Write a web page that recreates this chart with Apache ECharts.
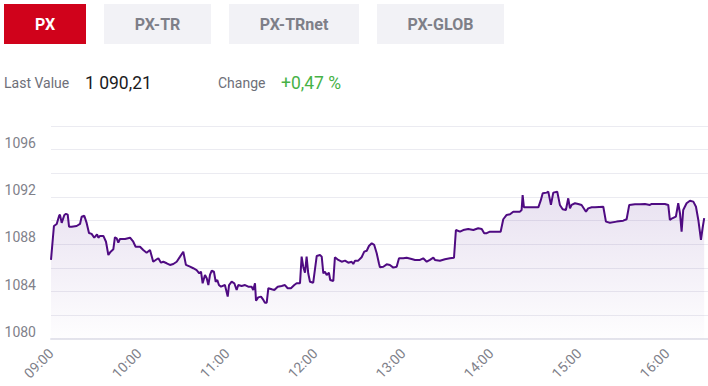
<!DOCTYPE html>
<html><head><meta charset="utf-8">
<script src="https://cdn.jsdelivr.net/npm/echarts@6/dist/echarts.min.js"></script>
<style>html,body{margin:0;padding:0;background:#fff}#c{width:708px;height:386px}</style>
</head><body><div id="c"></div>
<script>
const tabs = ['PX', 'PX-TR', 'PX-TRnet', 'PX-GLOB'];
const lastValueLabel = 'Last Value';
const lastValueText = '1 090,21';
const changeLabel = 'Change';
const changeText = '+0,47 %';
const hourLabels = ['09:00','10:00','11:00','12:00','13:00','14:00','15:00','16:00'];
const yTickLabels = [1080, 1084, 1088, 1092, 1096];
// minutes since 09:00
const times = [0,2,3.9,5.5,6.1,7.3,9.1,10.2,11.4,12.3,
14.1,17.5,19.8,20.9,22.7,24.3,25.9,27.7,29.5,30.5,
31.4,32.3,33.4,35.7,37.5,39.1,40.7,42.5,43.6,44.8,
45.9,47,50.5,53.9,56.1,57.7,60.7,62.9,65.2,67.5,
69.7,72.1,73.2,75,76.6,78.9,81.1,83.4,85.7,88,
90.2,92,94.8,97,99.3,101.1,102.3,103.4,105,106.2,
107.3,108.4,109.6,111.1,112.3,113.4,114.5,115.9,118.6,120.5,
121.4,123.2,125,126.6,127.7,130,132.3,134.5,136.8,137.9,
139.1,139.8,141.3,143.2,144.8,145.9,147.1,148.2,150.5,152.3,
154.6,157.3,159.5,161.4,163.6,165.9,167.5,169.8,170.9,172,
173.2,174.3,175.4,176.6,178.8,181.2,183.4,184.6,185.7,186.8,
188,189.5,190.4,192.5,193.6,195.9,198.2,200.5,202.7,205,
206.1,207.3,209.5,211.8,213.6,215.3,216.8,218.7,220.4,222.1,
223.6,224.3,226.6,228.9,231.1,233.4,235.7,237.3,240.2,242.5,
245.9,248.2,251.6,253.8,256.2,258.4,260.7,261.8,265.2,268.6,
272,274.8,276.1,278.9,281.1,284.5,288,291.3,293.7,295.4,
297.1,299.3,303.9,306.6,308.4,310.7,313,315.2,319.8,320.9,
321.6,322.5,328.9,332.3,333.9,335.3,338,339.1,340.9,342.5,
345.2,347,348.9,351.1,352.7,353.9,355,357.3,359.5,361.8,
364.8,366.3,368.7,370.9,376.6,378.4,381.1,385.7,390.2,392.5,
394.3,398.2,401.6,405,408.4,409.6,413,418.6,420.9,422,
423.6,426.1,427.7,428.9,430,431.1,433.4,435.7,438,439.8,
441.4,443.2,444.3,445.4];
const values = [1086.68,1089.55,1089.72,1090.40,1090.51,1089.81,1090.48,1090.57,1090.51,1089.49,
1089.49,1089.55,1089.72,1090.34,1090.42,1089.81,1088.96,1088.88,1088.56,1088.71,
1088.85,1088.56,1088.71,1088.71,1088.22,1087.10,1087.38,1087.58,1088.60,1088.51,
1088.14,1088.45,1088.45,1088.56,1088.22,1087.80,1087.80,1087.52,1087.29,1087.52,
1086.53,1086.74,1086.82,1086.45,1086.53,1086.40,1086.26,1086.34,1086.53,1086.96,
1087.38,1086.26,1086.11,1085.98,1085.83,1085.55,1085.69,1084.71,1085.41,1085.13,
1084.56,1085.41,1085.77,1085.69,1084.84,1084.99,1084.56,1084.42,1084.56,1083.58,
1084.56,1084.84,1084.71,1084.14,1084.56,1084.48,1084.56,1084.42,1084.42,1084.14,
1084.71,1083.24,1083.52,1083.58,1083.30,1083.07,1083.07,1084.29,1084.20,1084.14,
1084.42,1084.48,1084.56,1084.29,1084.29,1084.56,1084.71,1084.71,1086.96,1086.11,
1085.60,1086.96,1085.55,1084.84,1084.76,1087.02,1087.10,1086.96,1085.55,1085.69,
1085.41,1085.60,1084.99,1084.90,1086.91,1086.68,1086.53,1086.62,1086.45,1086.53,
1086.34,1086.62,1086.62,1086.91,1087.38,1087.46,1087.86,1088.09,1087.95,1087.24,
1086.40,1086.06,1086.11,1086.31,1086.26,1086.03,1086.11,1086.82,1086.82,1086.87,
1086.76,1086.68,1086.68,1086.82,1086.53,1086.68,1086.87,1086.68,1086.62,1086.74,
1086.82,1086.87,1089.21,1089.07,1089.21,1089.30,1089.21,1089.36,1089.30,1088.94,
1088.94,1089.07,1089.07,1089.07,1090.12,1090.48,1090.54,1090.76,1090.76,1090.90,
1092.17,1091.13,1091.13,1091.13,1091.69,1092.32,1092.37,1092.45,1091.33,1092.37,
1092.45,1091.33,1090.96,1090.90,1091.89,1091.04,1091.33,1091.47,1091.41,1091.33,
1090.76,1091.04,1091.13,1091.13,1091.18,1089.92,1089.83,1089.92,1090.00,1090.12,
1091.33,1091.39,1091.39,1091.41,1091.33,1091.41,1091.41,1091.41,1091.33,1090.06,
1090.20,1090.34,1091.47,1090.63,1089.07,1090.90,1091.47,1091.69,1091.61,1091.18,
1090.06,1088.37,1089.36,1090.21];

const FONT = 'Roboto, "Noto Sans", sans-serif';
const tabBoxes = [[4, 82], [104, 107], [229, 130], [377, 127]];
const graphics = [];
tabs.forEach((t, i) => {
  const [x, w] = tabBoxes[i];
  const active = i === 0;
  graphics.push({ type: 'rect', left: x, top: 4, shape: { width: w, height: 40 },
    style: { fill: active ? '#d0021b' : '#f2f2f6' } });
  graphics.push({ type: 'text', x: x + w / 2, y: 24,
    style: { text: t, fill: active ? '#ffffff' : '#7e7f88', fontFamily: FONT, fontWeight: 'bold',
      fontSize: 16, align: 'center', verticalAlign: 'middle' } });
});
graphics.push({ type: 'text', x: 4, y: 83, style: { text: lastValueLabel, fill: '#6e6f78', fontFamily: FONT, fontSize: 14, align: 'left', verticalAlign: 'middle' } });
graphics.push({ type: 'text', x: 85, y: 83, style: { text: lastValueText, fill: '#1b1b22', fontFamily: FONT, fontSize: 17.5, align: 'left', verticalAlign: 'middle' } });
graphics.push({ type: 'text', x: 218, y: 83, style: { text: changeLabel, fill: '#6e6f78', fontFamily: FONT, fontSize: 14, align: 'left', verticalAlign: 'middle' } });
graphics.push({ type: 'text', x: 281, y: 83, style: { text: changeText, fill: '#46b246', fontFamily: FONT, fontSize: 17.5, align: 'left', verticalAlign: 'middle' } });

const chart = echarts.init(document.getElementById('c'), null, { renderer: 'svg' });
chart.setOption({
  animation: false,
  backgroundColor: '#ffffff',
  graphic: graphics,
  grid: { left: 51, right: 0, top: 126, bottom: 47, containLabel: false },
  xAxis: {
    type: 'value', min: 0, max: 448, interval: 60,
    axisLine: { show: true, lineStyle: { color: '#e4e4ec', width: 2 } },
    axisTick: { show: false },
    splitLine: { show: false },
    axisLabel: {
      rotate: 45, margin: 12, color: '#80818a', fontFamily: FONT, fontSize: 14,
      showMaxLabel: false,
      formatter: v => (v % 60 === 0 && hourLabels[v / 60]) ? hourLabels[v / 60] : ''
    }
  },
  yAxis: {
    type: 'value', min: 1080, max: 1098, interval: 2,
    axisLine: { show: false }, axisTick: { show: false },
    splitLine: { show: true, lineStyle: { color: '#ebebf1', width: 1 } },
    axisLabel: {
      margin: 15, color: '#80818a', fontFamily: FONT, fontSize: 14, verticalAlign: 'bottom',
      formatter: v => yTickLabels.includes(v) ? String(v) : ''
    }
  },
  series: [{
    type: 'line',
    data: times.map((t, i) => [t, values[i]]),
    showSymbol: false,
    lineStyle: { color: '#4f0b82', width: 2 },
    itemStyle: { color: '#4f0b82' },
    areaStyle: {
      color: new echarts.graphic.LinearGradient(0, 0, 0, 1, [
        { offset: 0, color: 'rgba(90,40,150,0.20)' },
        { offset: 1, color: 'rgba(90,40,150,0.01)' }
      ])
    }
  }]
});
</script></body></html>
